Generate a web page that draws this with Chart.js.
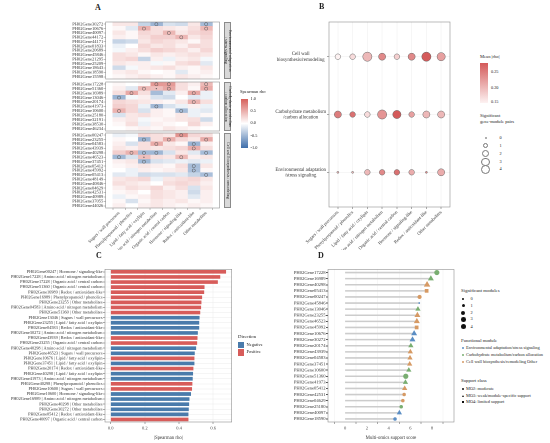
<!DOCTYPE html>
<html><head><meta charset="utf-8">
<script src="https://cdn.jsdelivr.net/npm/chart.js@4.4.1/dist/chart.umd.min.js"></script>
<style>
html,body{margin:0;padding:0;background:#fff;}
#wrap{position:relative;width:550px;height:443px;overflow:hidden;font-family:'Liberation Serif','DejaVu Serif',serif;color:#222;background:#fff;}
canvas{position:absolute;}
.t{position:absolute;white-space:nowrap;line-height:1;}
.pl{position:absolute;font-weight:bold;font-size:8px;line-height:1;}
.strip{position:absolute;left:224px;width:7px;background:#d9d9d9;border:0.5px solid #8a8a8a;box-sizing:border-box;writing-mode:vertical-rl;display:flex;align-items:center;justify-content:center;text-align:center;font-size:4px;line-height:4.3px;color:#222;white-space:nowrap;}
.dot{position:absolute;border-radius:50%;}
</style></head><body><div id="wrap"></div>
<script>
// ---------------- DATA ----------------
const hmCats = ["Sugars / wall precursors","Phenylpropanoid / phenolics","Lipid / fatty acid / oxylipin","Amino acid / nitrogen metabolism","Organic acid / central carbon","Hormone / signaling-like","Redox / antioxidant-like","Other metabolites"];

const envGenes = ["PH02Gene30272","PH02Gene10676","PH02Gene40097","PH02Gene44172","PH02Gene44171","PH02Gene01833","PH02Gene20689","PH02Gene45846","PH02Gene21295","PH02Gene25209","PH02Gene18643","PH02Gene18590","PH02Gene15598"];
const envRho = [
 [0.15,0.15,-0.30,-0.51,-0.20,-0.25,0.15,-0.46],
 [0.05,-0.15,0.49,0.20,0.15,0.10,0.20,0.44],
 [0.15,0.05,0.25,0.20,0.455,0.15,0.25,0.30],
 [0.10,0.05,0.20,0.30,0.30,0.45,0.15,0.25],
 [-0.30,-0.25,0.15,0.25,0.20,0.15,0.05,0.20],
 [-0.10,0.00,0.25,0.15,0.20,0.10,0.25,0.20],
 [-0.05,0.10,0.20,0.30,0.25,0.20,0.10,0.25],
 [0.20,0.15,0.05,0.15,0.10,0.15,0.20,0.15],
 [0.20,0.25,-0.30,0.10,-0.10,0.10,0.15,-0.05],
 [0.15,0.10,0.10,-0.05,0.05,0.20,0.25,-0.15],
 [-0.25,-0.05,0.10,0.15,0.20,0.10,0.05,0.15],
 [0.10,0.15,0.05,0.00,0.05,-0.15,0.05,0.10],
 [0.05,0.10,0.15,0.10,0.05,0.15,0.10,0.05]];
const envSig = [["PH02Gene30272",[3,7]],["PH02Gene10676",[2,7]],["PH02Gene40097",[4]],["PH02Gene44172",[5]]];

const carbGenes = ["PH02Gene17228","PH02Gene51360","PH02Gene16989","PH02Gene13046","PH02Gene20174","PH02Gene41973","PH02Gene10600","PH02Gene25180","PH02Gene32191","PH02Gene38530","PH02Gene46234"];
const carbRho = [
 [0.05,0.00,0.05,0.64,0.63,0.20,0.10,0.44],
 [0.10,-0.15,0.44,0.40,0.55,0.20,0.05,0.52],
 [0.20,0.535,0.20,-0.46,-0.15,0.10,0.55,-0.10],
 [-0.52,-0.05,0.10,-0.20,-0.25,0.00,-0.15,-0.10],
 [0.25,0.20,0.15,0.10,0.05,0.15,0.48,0.20],
 [0.30,0.25,-0.10,-0.48,-0.20,-0.10,0.10,-0.10],
 [0.48,0.25,-0.20,0.10,0.05,-0.47,-0.10,-0.15],
 [-0.20,0.15,0.20,0.10,0.05,0.15,-0.10,0.05],
 [0.10,0.15,-0.05,0.05,0.10,0.15,0.20,-0.25],
 [0.05,0.20,-0.10,0.10,0.05,0.00,0.25,0.10],
 [0.00,0.05,0.10,0.05,0.15,0.10,0.05,0.00]];
const carbSig = [["PH02Gene17228",[3,4,7]],["PH02Gene51360",[2,4,7]],["PH02Gene16989",[1,6]],["PH02Gene13046",[0]],["PH02Gene20174",[6]],["PH02Gene41973",[3]],["PH02Gene10600",[0,5]]];
const carbDot = [["PH02Gene51360",[3]]];

const wallGenes = ["PH02Gene00247","PH02Gene23255","PH02Gene04583","PH02Gene43939","PH02Gene40298","PH02Gene46523","PH02Gene37451","PH02Gene05412","PH02Gene45992","PH02Gene05413","PH02Gene48149","PH02Gene40846","PH02Gene04629","PH02Gene42531","PH02Gene40989","PH02Gene37055","PH02Gene44026"];
const wallRho = [
 [-0.10,-0.05,0.25,0.20,0.15,0.675,0.25,0.20],
 [0.05,0.00,-0.52,0.20,0.51,0.25,0.15,0.53],
 [0.10,-0.20,0.20,0.53,0.15,0.05,-0.52,0.10],
 [0.15,0.10,0.20,0.15,0.20,0.25,0.51,0.20],
 [0.30,0.48,-0.48,-0.50,-0.20,0.15,-0.15,-0.46],
 [-0.49,-0.20,0.40,0.20,0.15,0.44,0.10,0.15],
 [0.10,0.15,-0.49,-0.20,-0.15,-0.10,-0.15,-0.10],
 [0.05,0.10,0.15,0.10,0.05,0.20,-0.455,0.15],
 [0.00,-0.10,0.10,0.05,0.10,0.15,-0.44,0.05],
 [-0.15,-0.10,-0.25,-0.20,-0.20,-0.15,-0.30,-0.44],
 [0.15,0.20,0.25,-0.10,0.15,0.20,0.25,0.15],
 [0.20,0.15,0.10,0.00,0.20,0.25,0.20,0.10],
 [0.10,0.20,0.15,0.25,0.10,0.20,-0.20,0.15],
 [0.05,0.10,0.00,0.20,0.15,0.10,-0.25,0.10],
 [-0.10,0.05,0.10,0.20,0.15,0.10,-0.15,0.10],
 [0.05,-0.20,0.05,0.15,0.10,0.15,0.05,0.10],
 [0.10,0.00,0.10,0.15,0.10,0.05,0.10,0.05]];
const wallSig = [["PH02Gene00247",[5]],["PH02Gene23255",[2,4,7]],["PH02Gene04583",[3,6]],["PH02Gene43939",[6]],["PH02Gene40298",[1,2,3,7]],["PH02Gene46523",[0,5]],["PH02Gene37451",[2]],["PH02Gene05412",[6]],["PH02Gene45992",[6]],["PH02Gene05413",[7]]];
const wallDot = [["PH02Gene46523",[2]]];

// Panel B
const bRowLabels = [["Cell wall","biosynthesis/remodeling"],["Carbohydrate metabolism","/carbon allocation"],["Environmental adaptation","/stress signaling"]];
const bCellWallN = [1,1,4,2,1,2,4,3];
const bCarbN     = [2,1,1,4,3,1,2,2];
const bEnvN      = [0,0,1,1,1,1,0,2];
const bCellWallM = [0.15,0.17,0.20,0.24,0.18,0.24,0.28,0.22];
const bCarbM     = [0.25,0.26,0.17,0.23,0.28,0.22,0.20,0.20];
const bEnvM      = [0.20,0.20,0.20,0.24,0.26,0.21,0.24,0.21];

// Panel C
const cLabels = ["PH02Gene00247 | Hormone / signaling-like","PH02Gene17228 | Amino acid / nitrogen metabolism","PH02Gene17228 | Organic acid / central carbon","PH02Gene51360 | Organic acid / central carbon","PH02Gene16989 | Redox / antioxidant-like","PH02Gene16989 | Phenylpropanoid / phenolics","PH02Gene23255 | Other metabolites","PH02Gene04583 | Amino acid / nitrogen metabolism","PH02Gene51360 | Other metabolites","PH02Gene13046 | Sugars / wall precursors","PH02Gene23255 | Lipid / fatty acid / oxylipin","PH02Gene04583 | Redox / antioxidant-like","PH02Gene30272 | Amino acid / nitrogen metabolism","PH02Gene43939 | Redox / antioxidant-like","PH02Gene23255 | Organic acid / central carbon","PH02Gene40298 | Amino acid / nitrogen metabolism","PH02Gene46523 | Sugars / wall precursors","PH02Gene10676 | Lipid / fatty acid / oxylipin","PH02Gene37451 | Lipid / fatty acid / oxylipin","PH02Gene20174 | Redox / antioxidant-like","PH02Gene40298 | Lipid / fatty acid / oxylipin","PH02Gene41973 | Amino acid / nitrogen metabolism","PH02Gene40298 | Phenylpropanoid / phenolics","PH02Gene10600 | Sugars / wall precursors","PH02Gene10600 | Hormone / signaling-like","PH02Gene16989 | Amino acid / nitrogen metabolism","PH02Gene40298 | Other metabolites","PH02Gene30272 | Other metabolites","PH02Gene05412 | Redox / antioxidant-like","PH02Gene40097 | Organic acid / central carbon"];
const cRho = [0.675,0.641,0.627,0.549,0.547,0.535,0.531,0.529,0.524,0.520,0.518,0.518,0.510,0.508,0.506,0.500,0.492,0.490,0.490,0.484,0.482,0.480,0.478,0.476,0.470,0.461,0.459,0.457,0.455,0.455];
const cDir = ["Positive","Positive","Positive","Positive","Positive","Positive","Positive","Positive","Positive","Negative","Negative","Negative","Negative","Positive","Positive","Negative","Negative","Positive","Negative","Positive","Negative","Negative","Positive","Positive","Negative","Negative","Negative","Negative","Negative","Positive"];

// Panel D
const dGenes = ["PH02Gene17228","PH02Gene16989","PH02Gene40298","PH02Gene05413","PH02Gene00247","PH02Gene45846","PH02Gene13046","PH02Gene23255","PH02Gene46523","PH02Gene45992","PH02Gene10676","PH02Gene30272","PH02Gene20174","PH02Gene43939","PH02Gene04583","PH02Gene37451","PH02Gene10600","PH02Gene51360","PH02Gene41973","PH02Gene05412","PH02Gene42531","PH02Gene04629","PH02Gene25180","PH02Gene40097","PH02Gene18590"];
const dScore = [8.44,7.89,7.54,7.50,6.85,6.82,6.70,6.65,6.60,6.58,6.35,6.20,6.05,6.00,5.97,5.94,5.86,5.58,5.55,5.48,5.43,5.31,5.16,4.99,4.59];
const dModule = ["Carb","Carb","Wall","Wall","Wall","Env","Carb","Wall","Wall","Wall","Env","Env","Carb","Wall","Wall","Wall","Carb","Carb","Carb","Wall","Wall","Wall","Carb","Env","Env"];
const dSigMod = [4,3,4,2,2,0,2,3,3,2,3,3,2,2,2,2,2,4,2,2,1,1,1,2,1];
const dSupport = ["MO2","MO3","MO3","MO4","MO2","MO2","MO3","MO3","MO3","MO4","MO3","MO3","MO3","MO3","MO3","MO3","MO3","MO2","MO3","MO3","MO2","MO2","MO2","MO3","MO2"];

// ---------------- STYLE HELPERS ----------------
Chart.defaults.font.family = "'Liberation Serif','DejaVu Serif',serif";
Chart.defaults.color = '#333';
const wrap = document.getElementById('wrap');
const RED = [214,96,90], BLUE = [62,110,170];
function mix(c, t){ return 'rgb(' + c.map(v => Math.round(255 + (v - 255) * t)).join(',') + ')'; }
function divColor(v){ return mix(v >= 0 ? RED : BLUE, Math.min(1, Math.abs(v))); }
function seqColor(m){ const t = Math.max(0, Math.min(1, (m - 0.15) / 0.13)); const a=[253,242,242], b=[212,90,90]; return 'rgb(' + a.map((v,i)=>Math.round(v+(b[i]-v)*t)).join(',') + ')'; }
function sizeB(n){ return 1 + 1.8 * Math.sqrt(n); }
function sizeD(n){ return 0.9 + 0.85 * Math.sqrt(n); }
const modColor = {Env:'#5b8ec4', Carb:'#79ae71', Wall:'#d69a64'};
const supShape = {MO2:'circle', MO3:'triangle', MO4:'rect'};
const shapeScale = {circle:1, triangle:1.45, rect:1.25};
const cCol = {Positive:'#d75c5a', Negative:'#4a7bab'};

const frame = { id:'frame', afterDatasetsDraw(chart, args, o){ if(!o || !o.color) return; const a = chart.chartArea, ctx = chart.ctx; ctx.save(); ctx.strokeStyle = o.color; ctx.lineWidth = o.width || 0.6; ctx.strokeRect(a.left, a.top, a.right - a.left, a.bottom - a.top); ctx.restore(); } };

function mkCanvas(r){ const c = document.createElement('canvas'); c.width = r.w; c.height = r.h; c.style.left = r.l + 'px'; c.style.top = r.t + 'px'; c.style.width = r.w + 'px'; c.style.height = r.h + 'px'; wrap.appendChild(c); return c; }
function geom(r, p){ return {padding:{left:0, top:p.t - r.t, right:(r.l + r.w) - p.r, bottom:0}, yW:p.l - r.l, xH:(r.t + r.h) - p.b}; }
function txt(s, l, cy, size, extra){ const d = document.createElement('div'); d.className = 't'; d.innerHTML = s; d.style.left = l + 'px'; d.style.top = (cy - size * 0.5) + 'px'; d.style.fontSize = size + 'px'; if (extra) Object.assign(d.style, extra); wrap.appendChild(d); return d; }
function baseOpts(g){ return {responsive:false, animation:false, events:[], devicePixelRatio:2, layout:{padding:g.padding}, plugins:{legend:{display:false}, tooltip:{enabled:false}, frame:{color:'#8f8f8f', width:0.6}}}; }

// ---------------- PANEL A ----------------
function heat(rect, plot, genes, vals, sig, dots, showX){
  const g = geom(rect, plot);
  const ds = hmCats.map((cat, j) => ({
    type:'bar', indexAxis:'y', label:cat, data:genes.map(() => 1),
    backgroundColor:genes.map((_, i) => divColor(vals[i][j])),
    borderWidth:0, barPercentage:1, categoryPercentage:1, stack:'h', order:2 }));
  const pts = []; sig.forEach(([gene, cols]) => cols.forEach(c => pts.push({x:c + 0.5, y:gene})));
  ds.push({type:'scatter', data:pts, pointStyle:'circle', pointRadius:1.6, backgroundColor:'rgba(0,0,0,0)', borderColor:'#555', borderWidth:0.5, order:0});
  const dp = []; (dots || []).forEach(([gene, cols]) => cols.forEach(c => dp.push({x:c + 0.5, y:gene})));
  ds.push({type:'scatter', data:dp, pointStyle:'circle', pointRadius:0.6, backgroundColor:'#555', borderWidth:0, order:0});
  const o = baseOpts(g);
  o.scales = {
    x:{type:'linear', min:0, max:8, stacked:true,
       afterBuildTicks:s => { s.ticks = hmCats.map((_, j) => ({value:j + 0.5})); },
       ticks:{display:showX, autoSkip:false, minRotation:45, maxRotation:45, font:{size:4.4}, color:'#333', padding:0.5, callback:(v, i) => hmCats[i]},
       grid:{drawOnChartArea:false, drawTicks:showX, tickLength:2, color:'#666', lineWidth:0.4},
       border:{display:false}, afterFit:s => { s.height = g.xH; }},
    y:{type:'category', labels:genes, offset:true,
       ticks:{autoSkip:false, font:{size:4.5}, color:'#333', padding:0.5},
       grid:{drawOnChartArea:false, offset:false, tickLength:2, color:'#666', lineWidth:0.4},
       border:{display:false}, afterFit:s => { s.width = g.yW; }}
  };
  new Chart(mkCanvas(rect), {type:'bar', data:{datasets:ds}, options:o, plugins:[frame]});
}
heat({l:40, t:17, w:184, h:67}, {l:105.7, t:22, r:223, b:79}, envGenes, envRho, envSig, [], false);
heat({l:40, t:77, w:184, h:59}, {l:105.7, t:82, r:223, b:131}, carbGenes, carbRho, carbSig, carbDot, false);
heat({l:40, t:128, w:184, h:122}, {l:105.7, t:133, r:223, b:208}, wallGenes, wallRho, wallSig, wallDot, true);

function strip(top, h, html){ const d = document.createElement('div'); d.className = 'strip'; d.style.top = top + 'px'; d.style.height = h + 'px'; d.innerHTML = html; wrap.appendChild(d); }
strip(22, 57, 'Environmental adaptation<br>/ stress signaling');
strip(82, 49, 'Carbohydrate metabolism<br>/ carbon allocation');
strip(133, 75, 'Cell wall biosynthesis / remodeling');

// Spearman legend
txt('Spearman rho', 240, 92, 4.6);
(function(){ const d = document.createElement('div'); Object.assign(d.style, {position:'absolute', left:'241px', top:'99px', width:'7px', height:'49px', background:'linear-gradient(to bottom, rgb(214,96,90), #ffffff, rgb(62,110,170))'}); wrap.appendChild(d); })();
['1.0','0.5','0.0','-0.5','-1.0'].forEach((s, i) => txt(s, 250.5, 99 + i * 12.25, 4.3));

// ---------------- PANEL B ----------------
(function(){
  const rect = {l:262, t:14, w:194, h:236}, plot = {l:329, t:22, r:450, b:207};
  const g = geom(rect, plot);
  const rowsN = [bCellWallN, bCarbN, bEnvN], rowsM = [bCellWallM, bCarbM, bEnvM];
  const data = [];
  rowsN.forEach((row, r) => row.forEach((n, c) => data.push({x:c + 1, y:r + 1, n:n, m:rowsM[r][c]})));
  const o = baseOpts(g);
  o.scales = {
    x:{type:'linear', min:0.4, max:8.6,
       afterBuildTicks:s => { s.ticks = hmCats.map((_, j) => ({value:j + 1})); },
       ticks:{autoSkip:false, minRotation:45, maxRotation:45, font:{size:4.6}, color:'#333', padding:0.5, callback:(v, i) => hmCats[i]},
       grid:{color:'#ececec', lineWidth:0.5, tickLength:2, tickColor:'#555'}, border:{display:false},
       afterFit:s => { s.height = g.xH; }},
    y:{type:'linear', min:0.4, max:3.6, reverse:true,
       afterBuildTicks:s => { s.ticks = bRowLabels.map((_, j) => ({value:j + 1})); },
       ticks:{autoSkip:false, font:{size:4.9, lineHeight:1.15}, color:'#333', padding:1, crossAlign:'center', callback:(v, i) => bRowLabels[i]},
       grid:{color:'#ececec', lineWidth:0.5, tickLength:2, tickColor:'#555'}, border:{display:false},
       afterFit:s => { s.width = g.yW; }}
  };
  new Chart(mkCanvas(rect), {type:'scatter', data:{datasets:[{data:data,
    pointRadius:ctx => sizeB(ctx.raw.n), backgroundColor:ctx => seqColor(ctx.raw.m),
    borderColor:'#666', borderWidth:0.5}]}, options:o, plugins:[frame]});
})();
// B legends
txt('Mean |rho|', 480, 57, 4.6);
(function(){ const d = document.createElement('div'); Object.assign(d.style, {position:'absolute', left:'480px', top:'63px', width:'8px', height:'40px', background:'linear-gradient(to bottom, ' + seqColor(0.28) + ', ' + seqColor(0.15) + ')'}); wrap.appendChild(d); })();
txt('0.25', 491, 72.5, 4.3); txt('0.20', 491, 88, 4.3); txt('0.15', 491, 102, 4.3);
txt('Significant<br>gene-module pairs', 480, 118.5, 4.6, {lineHeight:'5.2px', top:'113.4px'});
[0,1,2,3,4].forEach((n, i) => {
  const cy = [137.7,145.7,153.7,161.7,169.3][i], r = sizeB(n);
  const d = document.createElement('div'); d.className = 'dot';
  Object.assign(d.style, {left:(485.5 - r) + 'px', top:(cy - r) + 'px', width:(2*r) + 'px', height:(2*r) + 'px', border:'0.5px solid #777', boxSizing:'border-box', background:'#fff'});
  wrap.appendChild(d); txt(String(n), 499.5, cy, 4.3);
});

// ---------------- PANEL C ----------------
(function(){
  const rect = {l:0, t:262, w:236, h:181}, plot = {l:105, t:269.3, r:231.7, b:422};
  const g = geom(rect, plot);
  const o = baseOpts(g);
  o.indexAxis = 'y';
  o.scales = {
    x:{type:'linear', min:-0.033, max:0.708,
       afterBuildTicks:s => { s.ticks = [0, 0.2, 0.4, 0.6].map(v => ({value:v})); },
       ticks:{font:{size:4.5}, color:'#444', padding:1.5, callback:v => Number(v).toFixed(1)},
       grid:{color:'#ebebeb', lineWidth:0.5, tickLength:2, tickColor:'#555'}, border:{display:false},
       title:{display:true, text:'|Spearman rho|', font:{size:4.8}, color:'#333', padding:{top:0, bottom:2.5}},
       afterFit:s => { s.height = g.xH; }},
    y:{type:'category', labels:cLabels,
       ticks:{autoSkip:false, font:{size:4.3}, color:'#333', padding:0.5},
       grid:{color:'#ebebeb', lineWidth:0.5, offset:false, tickLength:2, tickColor:'#555'}, border:{display:false},
       afterFit:s => { s.width = g.yW; }}
  };
  new Chart(mkCanvas(rect), {type:'bar', data:{labels:cLabels, datasets:[{data:cRho,
    backgroundColor:cDir.map(d => cCol[d]), borderWidth:0, barPercentage:0.72, categoryPercentage:1}]}, options:o, plugins:[frame]});
})();
txt('Direction', 238, 337, 4.8);
[['Negative', 345], ['Positive', 352.7]].forEach(([k, cy]) => {
  const d = document.createElement('div');
  Object.assign(d.style, {position:'absolute', left:'237.5px', top:(cy - 3.3) + 'px', width:'6.5px', height:'6.6px', background:cCol[k]});
  wrap.appendChild(d); txt(k, 246.5, cy, 4.5);
});

// ---------------- PANEL D ----------------
(function(){
  const rect = {l:268, t:262, w:190, h:181}, plot = {l:328, t:269.5, r:454, b:422};
  const g = geom(rect, plot);
  const o = baseOpts(g);
  o.scales = {
    x:{type:'linear', min:-0.42, max:8.86,
       afterBuildTicks:s => { s.ticks = [0, 2, 4, 6, 8].map(v => ({value:v})); },
       ticks:{font:{size:4.5}, color:'#444', padding:1.5},
       grid:{color:'#efefef', lineWidth:0.5, tickLength:2, tickColor:'#555'}, border:{display:false},
       title:{display:true, text:'Multi-omics support score', font:{size:4.8}, color:'#333', padding:{top:0, bottom:2.5}},
       afterFit:s => { s.height = g.xH; }},
    y:{type:'category', labels:dGenes, offset:true,
       ticks:{autoSkip:false, font:{size:4.6}, color:'#333', padding:0.5},
       grid:{drawOnChartArea:false, offset:false, tickLength:2, color:'#555'}, border:{display:false},
       afterFit:s => { s.width = g.yW; }}
  };
  const seg = {type:'bar', indexAxis:'y', data:dScore.map(s => [0, s]), backgroundColor:'#cccccc', borderWidth:0, barThickness:0.9, order:2};
  const pts = {type:'scatter', data:dGenes.map((gname, i) => ({x:dScore[i], y:gname})),
    pointStyle:ctx => supShape[dSupport[ctx.dataIndex]],
    pointRadius:ctx => sizeD(dSigMod[ctx.dataIndex]) * shapeScale[supShape[dSupport[ctx.dataIndex]]],
    backgroundColor:ctx => modColor[dModule[ctx.dataIndex]], borderWidth:0, order:0};
  new Chart(mkCanvas(rect), {type:'bar', data:{labels:dGenes, datasets:[seg, pts]}, options:o, plugins:[frame]});
})();
// D legends
txt('Significant modules', 461, 291.7, 4.8);
[0,1,2,3,4].forEach((n, i) => {
  const cy = [299,305.7,312.7,319.3,326.7][i], r = sizeD(n);
  const d = document.createElement('div'); d.className = 'dot';
  Object.assign(d.style, {left:(463.3 - r) + 'px', top:(cy - r) + 'px', width:(2*r) + 'px', height:(2*r) + 'px', background:'#111'});
  wrap.appendChild(d); txt(String(n), 470.5, cy, 4.4);
});
txt('Functional module', 461, 341, 4.8);
[['Env','Environmental adaptation/stress signaling',347.7],['Carb','Carbohydrate metabolism/carbon allocation',355],['Wall','Cell wall biosynthesis/remodeling Other',362]].forEach(([k, s, cy]) => {
  const d = document.createElement('div'); d.className = 'dot';
  Object.assign(d.style, {left:'462.3px', top:(cy - 1) + 'px', width:'2px', height:'2px', background:modColor[k]});
  wrap.appendChild(d); txt(s, 466, cy, 4.4);
});
txt('Support class', 461, 381.7, 4.8);
[['circle','MO2: moderate',389.3],['triangle','MO3: weak/module-specific support',395.7],['rect','MO4: limited support',402]].forEach(([sh, s, cy]) => {
  const d = document.createElement('div');
  if (sh === 'circle') Object.assign(d.style, {position:'absolute', left:'462px', top:(cy - 1) + 'px', width:'2px', height:'2px', borderRadius:'50%', background:'#111'});
  else if (sh === 'rect') Object.assign(d.style, {position:'absolute', left:'462px', top:(cy - 1) + 'px', width:'2px', height:'2px', background:'#111'});
  else Object.assign(d.style, {position:'absolute', left:'461.8px', top:(cy - 1.2) + 'px', width:0, height:0, borderLeft:'1.2px solid transparent', borderRight:'1.2px solid transparent', borderBottom:'2.2px solid #111'});
  wrap.appendChild(d); txt(s, 466, cy, 4.4);
});

// panel letters
[['A',95,4],['B',319,3],['C',96,252],['D',318,252]].forEach(([s, l, t]) => { const d = document.createElement('div'); d.className = 'pl'; d.textContent = s; d.style.left = l + 'px'; d.style.top = t + 'px'; wrap.appendChild(d); });
</script></body></html>
